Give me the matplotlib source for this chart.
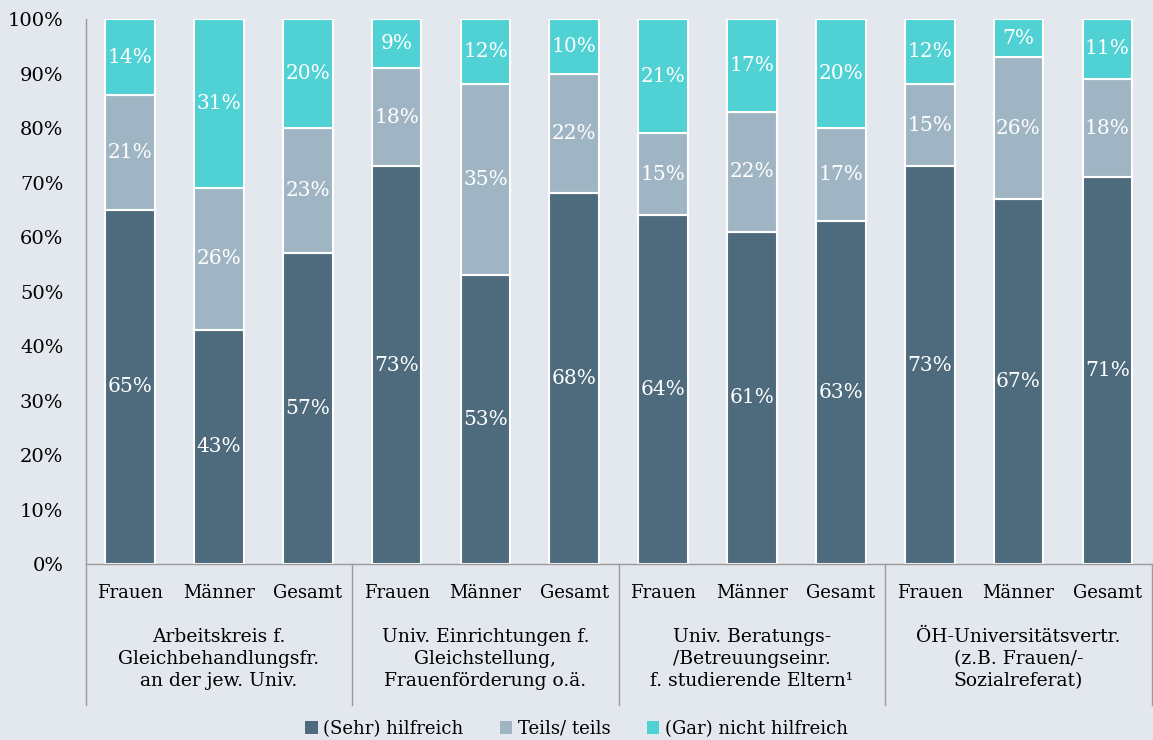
#!/usr/bin/env python3
"""
Stacked bar chart: how helpful were university support services (by gender)
"""

import matplotlib
matplotlib.use('Agg')
import matplotlib.pyplot as plt
import matplotlib.transforms as mtransforms
from matplotlib.patches import Patch
import numpy as np

# Data
groups = [
    'Arbeitskreis f.\nGleichbehandlungsfr.\nan der jew. Univ.',
    'Univ. Einrichtungen f.\nGleichstellung,\nFrauenförderung o.ä.',
    'Univ. Beratungs-\n/Betreuungseinr.\nf. studierende Eltern¹',
    'ÖH-Universitätsvertr.\n(z.B. Frauen/-\nSozialreferat)',
]
subgroups = ['Frauen', 'Männer', 'Gesamt']
series_names = ['(Sehr) hilfreich', 'Teils/ teils', '(Gar) nicht hilfreich']

sehr_hilfreich = [65, 43, 57, 73, 53, 68, 64, 61, 63, 73, 67, 71]
teils_teils = [21, 26, 23, 18, 35, 22, 15, 22, 17, 15, 26, 18]
nicht_hilfreich = [14, 31, 20, 9, 12, 10, 21, 17, 20, 12, 7, 11]

colors = ['#4e6a7d', '#a0b5c3', '#50d1d4']
bg = '#e3e7ee'
axis_col = '#9a9a9a'

plt.rcParams['font.family'] = ['DejaVu Serif']

fig = plt.figure(figsize=(11.53, 7.40), dpi=100, facecolor=bg)
ax = fig.add_axes([0.0742, 0.2378, 0.9248, 0.7365])
ax.set_facecolor(bg)

x = np.arange(len(sehr_hilfreich))
width = 0.56
bottom = np.zeros(len(x))
for vals, col in zip([sehr_hilfreich, teils_teils, nicht_hilfreich], colors):
    vals = np.array(vals, dtype=float)
    ax.bar(x, vals, width, bottom=bottom, color=col,
           edgecolor='white', linewidth=1.5)
    for xi, b, v in zip(x, bottom, vals):
        ax.text(xi, b + v / 2, f'{v:.0f}%', ha='center', va='center',
                color='white', fontsize=14.5)
    bottom += vals

ax.set_xlim(-0.5, len(x) - 0.5)
ax.set_ylim(0, 100)
ax.set_yticks(np.arange(0, 101, 10))
ax.set_yticklabels([f'{v}%' for v in range(0, 101, 10)], fontsize=14)
ax.tick_params(axis='y', length=0, pad=16)
ax.set_xticks([])

for side in ['top', 'right']:
    ax.spines[side].set_visible(False)
for side in ['left', 'bottom']:
    ax.spines[side].set_color(axis_col)
    ax.spines[side].set_linewidth(1.0)

# Two-level category axis below the plot
trans = mtransforms.blended_transform_factory(ax.transData, fig.transFigure)
for xi in x:
    ax.text(xi, 0.199, subgroups[xi % 3], transform=trans, ha='center',
            va='center', fontsize=13)
for gi, name in enumerate(groups):
    ax.text(gi * 3 + 1, 0.1095, name, transform=trans, ha='center',
            va='center', fontsize=13.5, linespacing=1.3)
for sep in np.arange(-0.5, len(x), 3):
    ax.plot([sep, sep], [0.2378, 0.047], transform=trans, color=axis_col,
            linewidth=1.0, clip_on=False)

handles = [Patch(facecolor=c, edgecolor='none') for c in colors]
fig.legend(handles, series_names, loc='center', bbox_to_anchor=(0.5, 0.015),
           ncol=3, frameon=False, fontsize=13, handlelength=0.7,
           handleheight=0.7, handletextpad=0.3, columnspacing=2.0,
           borderpad=0)

plt.savefig('out.png', dpi=100, facecolor=bg)
plt.close()
